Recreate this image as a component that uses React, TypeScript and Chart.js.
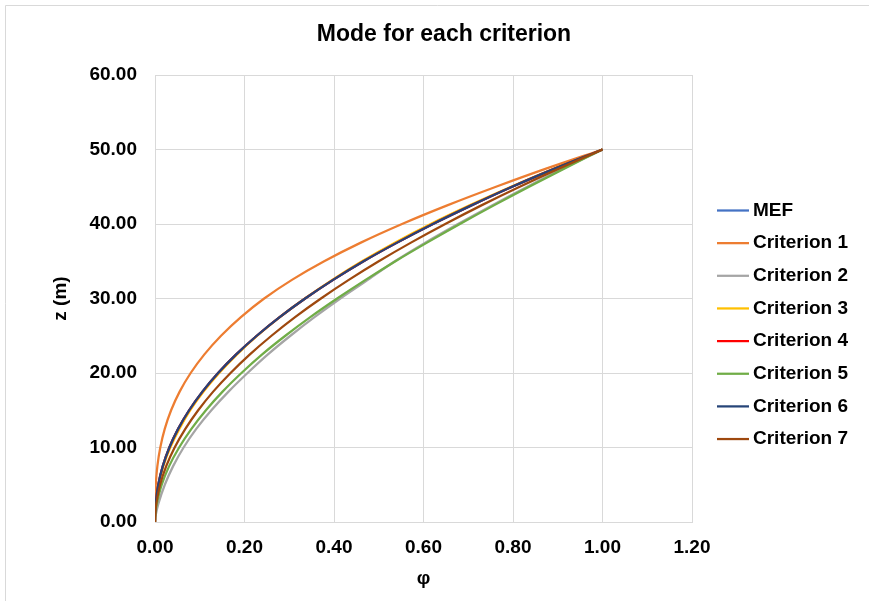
import { useEffect, useRef } from 'react';
import { Chart, registerables } from 'chart.js';

Chart.register(...registerables);

// Height z (m) at which every mode shape value is read
const zValues = [0, 1, 2.5, 5, 7.5, 10, 12.5, 15, 17.5, 20, 22.5, 25, 27.5, 30, 32.5, 35, 37.5, 40, 42.5, 45, 47.5, 50];

const seriesLabels = ['MEF', 'Criterion 1', 'Criterion 2', 'Criterion 3', 'Criterion 4', 'Criterion 5', 'Criterion 6', 'Criterion 7'];
const seriesColors = ['#4472C4', '#ED7D31', '#A5A5A5', '#FFC000', '#FF0000', '#70AD47', '#264478', '#9E480E'];

// Mode value phi for each series, one per z value
const phiMEF = [0, 0.00024, 0.0017, 0.0074, 0.0175, 0.0322, 0.0518, 0.0764, 0.1061, 0.1411, 0.1816, 0.2275, 0.2787, 0.3356, 0.3981, 0.4661, 0.5411, 0.6211, 0.7071, 0.7981, 0.8961, 1];
const phiC1 = [0, 0.00002, 0.00026, 0.0017, 0.0053, 0.0118, 0.0218, 0.036, 0.0551, 0.0797, 0.1104, 0.1476, 0.192, 0.244, 0.306, 0.378, 0.46, 0.552, 0.653, 0.762, 0.877, 1];
const phiC2 = [0, 0.0019, 0.0078, 0.0219, 0.0405, 0.0639, 0.0922, 0.126, 0.1643, 0.2068, 0.2523, 0.3026, 0.3564, 0.4142, 0.4755, 0.536, 0.604, 0.677, 0.753, 0.832, 0.914, 1];
const phiC3 = [0, 0.00027, 0.00185, 0.0079, 0.0186, 0.0341, 0.0544, 0.0788, 0.1085, 0.1434, 0.1833, 0.2285, 0.2789, 0.335, 0.396, 0.4625, 0.536, 0.616, 0.703, 0.7956, 0.8947, 1];
const phiC4 = [0, 0.00023, 0.00167, 0.0073, 0.0174, 0.0321, 0.0517, 0.0763, 0.1062, 0.141, 0.1815, 0.2274, 0.2786, 0.3355, 0.398, 0.466, 0.541, 0.621, 0.707, 0.798, 0.896, 1];
const phiC5 = [0, 0.0008, 0.0043, 0.0151, 0.0316, 0.0539, 0.0814, 0.1138, 0.151, 0.1932, 0.2395, 0.2913, 0.347, 0.407, 0.4704, 0.5373, 0.608, 0.6814, 0.7574, 0.836, 0.9165, 1];
const phiC6 = [0, 0.00023, 0.00166, 0.0073, 0.0174, 0.0321, 0.0517, 0.0763, 0.106, 0.141, 0.1815, 0.2274, 0.2786, 0.3355, 0.398, 0.466, 0.541, 0.621, 0.707, 0.798, 0.896, 1];
const phiC7 = [0, 0.0005, 0.003, 0.0114, 0.0251, 0.0439, 0.0678, 0.0965, 0.13, 0.1688, 0.2121, 0.2603, 0.313, 0.3708, 0.433, 0.5, 0.572, 0.6486, 0.7294, 0.815, 0.905, 1];

const seriesPhi = [phiMEF, phiC1, phiC2, phiC3, phiC4, phiC5, phiC6, phiC7];

const xTickValues = [0, 0.2, 0.4, 0.6, 0.8, 1.0, 1.2];
const yTickValues = [0, 10, 20, 30, 40, 50, 60];

const FONT = "'Liberation Sans', Arial, sans-serif";

const frameAndLegend = {
  id: 'frameAndLegend',
  beforeDraw(chart: any) {
    const ctx = chart.ctx;
    ctx.save();
    ctx.fillStyle = '#ffffff';
    ctx.fillRect(0, 0, chart.width, chart.height);
    ctx.strokeStyle = '#d9d9d9';
    ctx.lineWidth = 1;
    ctx.beginPath();
    ctx.moveTo(5.5, chart.height);
    ctx.lineTo(5.5, 5.5);
    ctx.lineTo(chart.width, 5.5);
    ctx.stroke();
    ctx.restore();
  },
  afterDraw(chart: any) {
    const ctx = chart.ctx;
    const left = 717;
    const lineLen = 32;
    const top = 210.5;
    const step = 32.65;
    ctx.save();
    ctx.font = `bold 19px ${FONT}`;
    ctx.textBaseline = 'middle';
    ctx.textAlign = 'left';
    chart.data.datasets.forEach((ds: any, i: number) => {
      const y = top + i * step;
      ctx.strokeStyle = ds.borderColor;
      ctx.lineWidth = 2.25;
      ctx.beginPath();
      ctx.moveTo(left, y);
      ctx.lineTo(left + lineLen, y);
      ctx.stroke();
      ctx.fillStyle = '#000000';
      ctx.fillText(ds.label, left + lineLen + 4, y);
    });
    ctx.restore();
  },
};

export default function App() {
  const canvasRef = useRef<HTMLCanvasElement | null>(null);

  useEffect(() => {
    if (!canvasRef.current) return;
    const datasets = seriesLabels.map((label, s) => ({
      label,
      data: zValues.map((z, i) => ({ x: seriesPhi[s][i], y: z })),
      borderColor: seriesColors[s],
      backgroundColor: seriesColors[s],
      borderWidth: 2.25,
      showLine: true,
      pointRadius: 0,
      pointHoverRadius: 0,
      tension: 0.35,
      order: seriesLabels.length - 1 - s,
      yAxisID: 'y',
    }));

    const chart = new Chart(canvasRef.current, {
      type: 'scatter',
      data: { datasets },
      plugins: [frameAndLegend],
      options: {
        animation: false,
        responsive: false,
        devicePixelRatio: 1,
        layout: { padding: { left: 19, right: 0, top: 0, bottom: 7 } },
        plugins: {
          legend: { display: false },
          tooltip: { enabled: false },
          title: {
            display: true,
            text: 'Mode for each criterion',
            color: '#000000',
            font: { family: FONT, size: 23, weight: 'bold' },
            padding: { top: 20.9, bottom: 26.5 },
          },
        },
        scales: {
          x: {
            type: 'linear',
            min: 0,
            max: 1.2,
            afterBuildTicks: (axis: any) => {
              axis.ticks = xTickValues.map((v) => ({ value: v }));
            },
            afterFit: (axis: any) => {
              axis.height = 72;
            },
            ticks: {
              color: '#000000',
              padding: 14,
              font: { family: FONT, size: 19, weight: 'bold' },
              callback: (v: any) => Number(v).toFixed(2),
              maxRotation: 0,
            },
            grid: { color: '#d9d9d9', lineWidth: 1, drawTicks: false },
            border: { color: '#d9d9d9', width: 1 },
            title: {
              display: true,
              text: 'φ',
              color: '#000000',
              font: { family: FONT, size: 19, weight: 'bold' },
              padding: { top: 4, bottom: 4 },
            },
          },
          y: {
            type: 'linear',
            position: 'left',
            min: 0,
            max: 60,
            afterBuildTicks: (axis: any) => {
              axis.ticks = yTickValues.map((v) => ({ value: v }));
            },
            afterFit: (axis: any) => {
              axis.width = 136;
            },
            ticks: {
              color: '#000000',
              padding: 18,
              font: { family: FONT, size: 19, weight: 'bold' },
              callback: (v: any) => Number(v).toFixed(2),
            },
            grid: { color: '#d9d9d9', lineWidth: 1, drawTicks: false },
            border: { color: '#d9d9d9', width: 1 },
            title: {
              display: true,
              text: 'z (m)',
              color: '#000000',
              font: { family: FONT, size: 19, weight: 'bold' },
              padding: { top: 30.6, bottom: 0 },
            },
          },
          legendSpace: {
            type: 'linear',
            position: 'right',
            min: 0,
            max: 1,
            afterFit: (axis: any) => {
              axis.width = 177;
            },
            ticks: { display: false },
            grid: { display: false, drawTicks: false },
            border: { display: false },
            title: { display: false },
          },
        },
      },
    });

    return () => {
      chart.destroy();
    };
  }, []);

  return (
    <div style={{ position: 'fixed', left: 0, top: 0, width: 869, height: 601, background: '#ffffff' }}>
      <canvas ref={canvasRef} width={869} height={601} style={{ display: 'block' }} />
    </div>
  );
}
